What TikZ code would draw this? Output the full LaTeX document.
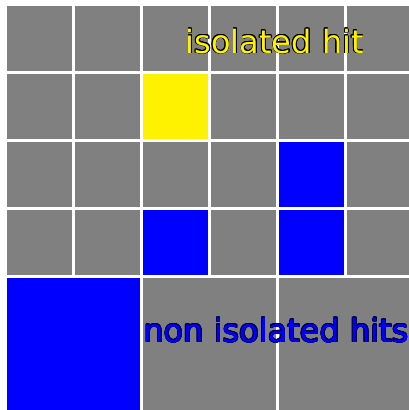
\documentclass[tikz,border=0pt]{standalone}
\usepackage{fontspec}
\setmainfont{DejaVu Sans}
\usepackage{contour}
\contourlength{0.7pt}

\tikzset{
    cell/.style={fill=gray, draw=white, line width=3pt},
    hitlabel/.style={inner sep=0pt, anchor=base west, font=\fontsize{32}{36}\selectfont}
}

\begin{document}
\begin{tikzpicture}[x=1pt, y=-1pt]
    \useasboundingbox[fill=white] (0,0) rectangle (409,410);
    % small cells, 4 rows of 6
    \foreach \i in {0,...,5}
        \foreach \j in {0,...,3}
            \draw[cell] (5.5+68*\i,4.5+68*\j) rectangle ++(68,68);
    % hits in the small cells
    \draw[cell, fill=yellow] (5.5+68*2,4.5+68*1) rectangle ++(68,68);
    \draw[cell, fill=blue] (5.5+68*4,4.5+68*2) rectangle ++(68,68);
    \draw[cell, fill=blue] (5.5+68*2,4.5+68*3) rectangle ++(68,68);
    \draw[cell, fill=blue] (5.5+68*4,4.5+68*3) rectangle ++(68,68);
    % big cells in the bottom row
    \foreach \i in {0,1,2}
        \draw[cell] (5.5+136*\i,276.5) rectangle ++(136,136);
    \draw[cell, fill=blue] (5.5,276.5) rectangle ++(136,136);
    % labels
    \node[hitlabel] (isolated) at (185.5,53) {\contour{black}{\textcolor{yellow}{isolated hit}}};
    \node[hitlabel] (nonisolated) at (143.5,342) {\contour{blue!30!black}{\textcolor{blue}{non isolated hits}}};
\end{tikzpicture}
\end{document}
